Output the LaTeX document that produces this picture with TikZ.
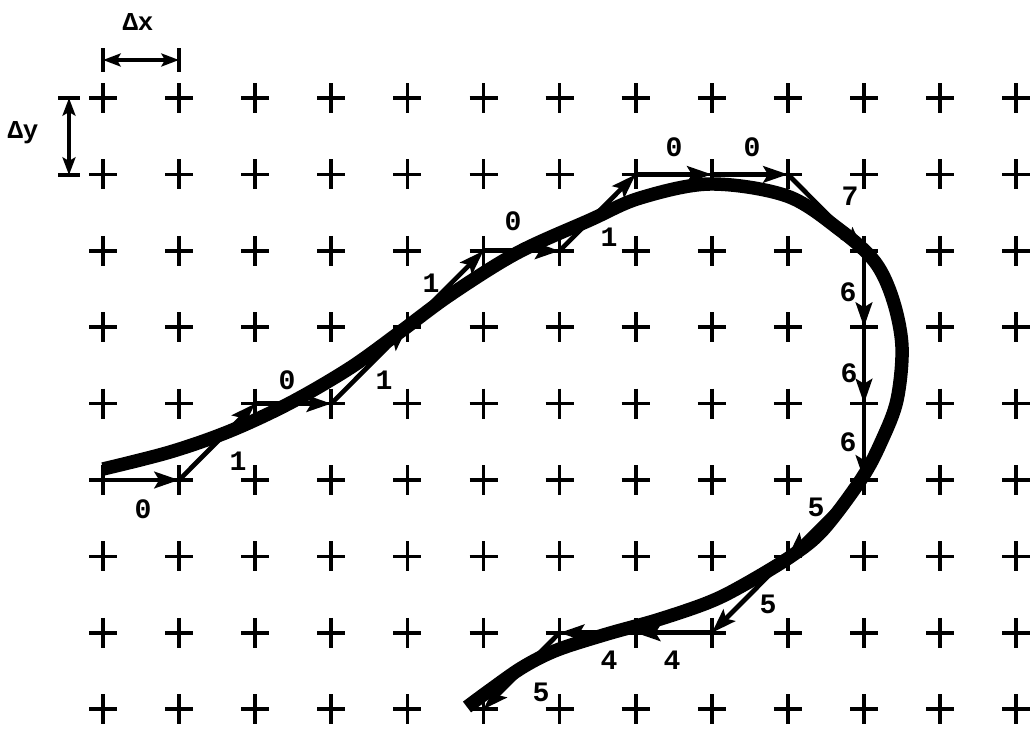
\documentclass[tikz,border=0pt]{standalone}
\usepackage{fontspec}
\newfontfamily\labfont{Liberation Mono}
\usetikzlibrary{arrows.meta}
\begin{document}
\begin{tikzpicture}[x=0.03cm,y=-0.03cm,
  plus/.style={line width=3.2pt},
  chain/.style={line width=4pt,-{Stealth[length=21pt,width=14pt,inset=4pt]}},
  curve/.style={line width=11.5pt,line cap=butt},
  lab/.style={font=\labfont\bfseries\fontsize{24}{24}\selectfont,inner sep=0pt},
  dlab/.style={font=\labfont\bfseries\fontsize{22}{22}\selectfont,inner sep=0pt},
  dim/.style={line width=3pt,{Stealth[length=15pt,width=11pt,inset=3pt]}-{Stealth[length=15pt,width=11pt,inset=3pt]}},
  bar/.style={line width=4pt}]
\useasboundingbox (0,0) rectangle (1033,729);
% grid of plus signs
\foreach \i in {0,...,12}{
  \foreach \j in {0,...,8}{
    \coordinate (g-\i-\j) at ({103+76.1*\i},{98+76.4*\j});
    \draw[plus] (g-\i-\j) +(-14,0) -- +(14,0) (g-\i-\j) +(0,-15) -- +(0,15);
  }
}
% chain code arrows
\draw[chain] (g-0-5) -- (g-1-5);
\draw[chain] (g-1-5) -- (g-2-4);
\draw[chain] (g-2-4) -- (g-3-4);
\draw[chain] (g-3-4) -- (g-4-3);
\draw[chain] (g-4-3) -- (g-5-2);
\draw[chain] (g-5-2) -- (g-6-2);
\draw[chain] (g-6-2) -- (g-7-1);
\draw[chain] (g-7-1) -- (g-8-1);
\draw[chain] (g-8-1) -- (g-9-1);
\draw[chain] (g-9-1) -- (g-10-2);
\draw[chain] (g-10-2) -- (g-10-3);
\draw[chain] (g-10-3) -- (g-10-4);
\draw[chain] (g-10-4) -- (g-10-5);
\draw[chain] (g-10-5) -- (g-9-6);
\draw[chain] (g-9-6) -- (g-8-7);
\draw[chain] (g-8-7) -- (g-7-7);
\draw[chain] (g-7-7) -- (g-6-7);
\draw[chain] (g-6-7) -- (g-5-8);
% the thick curve
\draw[curve] plot[smooth,tension=0.55] coordinates {
  (103,469) (170,452) (230,431) (290,403) (350,368) (400,332) (450,295)
  (517,253) (590,220) (640,198) (710,184) (787,196) (840,230) (875,262)
  (893,300) (902,347) (897,400) (882,440) (862,478) (823,530) (790,557)
  (740,587) (707,603) (657,620) (607,634) (557,650) (523,667) (490,690) (467,707)};
% chain code labels
\node[lab] (l1) at (143,509) {0};
\node[lab] (l2) at (238,461) {1};
\node[lab] (l3) at (287,380) {0};
\node[lab] (l4) at (384,380) {1};
\node[lab] (l5) at (431,283) {1};
\node[lab] (l6) at (513,221) {0};
\node[lab] (l7) at (609,237) {1};
\node[lab] (l8) at (674,147) {0};
\node[lab] (l9) at (752,147) {0};
\node[lab] (l10) at (850,196) {7};
\node[lab] (l11) at (848,292) {6};
\node[lab] (l12) at (849,373) {6};
\node[lab] (l13) at (848,442) {6};
\node[lab] (l14) at (816,507) {5};
\node[lab] (l15) at (768,604) {5};
\node[lab] (l16) at (609,660) {4};
\node[lab] (l17) at (672,660) {4};
\node[lab] (l18) at (541,692) {5};
% dimension markers
\coordinate (dxa) at (103,60);
\coordinate (dxb) at (179,60);
\draw[bar] (dxa) +(0,-12) -- +(0,12);
\draw[bar] (dxb) +(0,-12) -- +(0,12);
\draw[dim] (dxa) -- (dxb);
\node[dlab] (dx) at (138,22) {Δx};
\coordinate (dya) at (69,98);
\coordinate (dyb) at (69,175);
\draw[bar] (dya) +(-11,0) -- +(11,0);
\draw[bar] (dyb) +(-11,0) -- +(11,0);
\draw[dim] (dya) -- (dyb);
\node[dlab] (dy) at (23,133) {Δy};
\end{tikzpicture}
\end{document}
